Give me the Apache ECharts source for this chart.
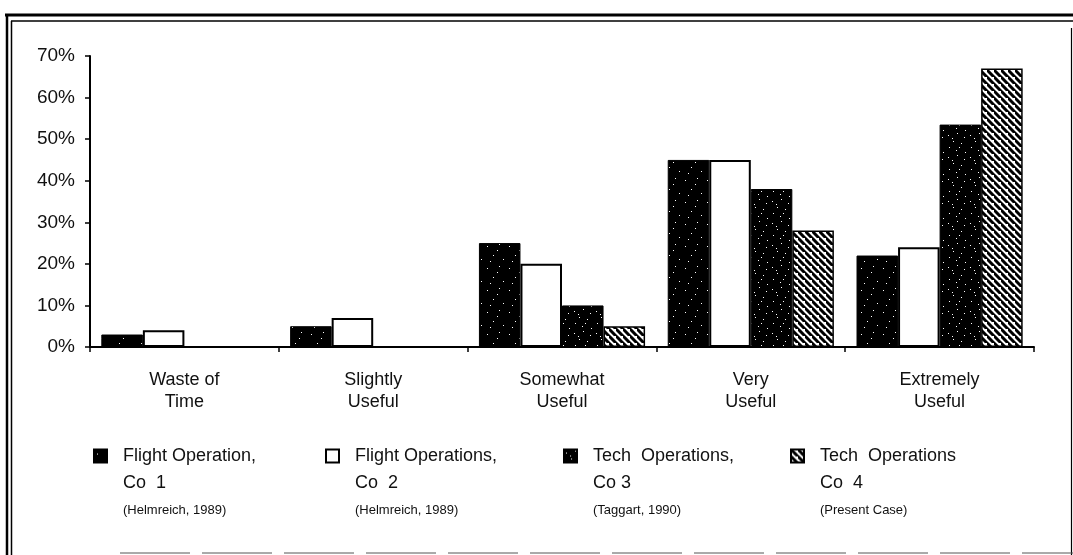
<!DOCTYPE html>
<html>
<head>
<meta charset="utf-8">
<style>
  html, body { margin: 0; padding: 0; background: #fff; }
  #chart { width: 1073px; height: 555px; }
</style>
<script src="https://cdn.jsdelivr.net/npm/echarts@6/dist/echarts.min.js"></script>
</head>
<body>
<div id="chart"></div>
<script>
// Response categories
const categories = ['Waste of\nTime', 'Slightly\nUseful', 'Somewhat\nUseful', 'Very\nUseful', 'Extremely\nUseful'];

// Percentage of respondents per group
const flightCo1 = [3, 5, 25, 45, 22];
const flightCo2 = [4, 7, 20, 45, 24];
const techCo3 = [0, 0, 10, 38, 53.5];
const techCo4 = [0, 0, 5, 28, 67];

const seriesNames = ['Flight Operation, Co 1', 'Flight Operations, Co 2', 'Tech Operations, Co 3', 'Tech Operations Co 4'];
const legendLines = [
  ['Flight Operation,', 'Co  1', '(Helmreich, 1989)'],
  ['Flight Operations,', 'Co  2', '(Helmreich, 1989)'],
  ['Tech  Operations,', 'Co 3', '(Taggart, 1990)'],
  ['Tech  Operations', 'Co  4', '(Present Case)']
];

const yTicks = [0, 10, 20, 30, 40, 50, 60, 70];

// Fill textures for the bars
function speckleTile(dots) {
  const c = document.createElement('canvas');
  c.width = 22; c.height = 22;
  const g = c.getContext('2d');
  g.fillStyle = '#000';
  g.fillRect(0, 0, 22, 22);
  g.fillStyle = '#fff';
  dots.forEach(d => g.fillRect(d[0], d[1], 1, 1));
  return c;
}
function hatchTile() {
  const s = 7;
  const c = document.createElement('canvas');
  c.width = s; c.height = s;
  const g = c.getContext('2d');
  g.fillStyle = '#fff';
  g.fillRect(0, 0, s, s);
  g.strokeStyle = '#000';
  g.lineWidth = 3;
  g.beginPath();
  g.moveTo(-1, -1); g.lineTo(s + 1, s + 1);
  g.moveTo(-s - 1, -1); g.lineTo(1, s + 1);
  g.moveTo(s - 1, -s - 1); g.lineTo(2 * s + 1, s + 1);
  g.stroke();
  return c;
}
const speckleA = speckleTile([[3, 4], [15, 2], [9, 13], [19, 17], [6, 19], [13, 8]]);
const speckleB = speckleTile([[2, 3], [11, 1], [18, 5], [7, 9], [15, 11], [3, 15], [10, 18], [19, 20], [13, 15], [6, 6]]);
const hatch = hatchTile();

const chart = echarts.init(document.getElementById('chart'), null, { renderer: 'canvas' });

const legendLeft = [93, 325, 563, 790];

const legends = seriesNames.map((name, i) => ({
  data: [{ name: name, icon: 'rect' }],
  left: legendLeft[i],
  top: 447,
  orient: 'horizontal',
  padding: 0,
  itemWidth: 13,
  itemHeight: 13,
  selectedMode: false,
  formatter: () => '{a|' + legendLines[i][0] + '}\n{a|' + legendLines[i][1] + '}\n{b|' + legendLines[i][2] + '}',
  textStyle: {
    padding: [55, 0, 0, 11],
    rich: {
      a: { fontFamily: 'Liberation Sans', fontSize: 18, lineHeight: 27, color: '#111' },
      b: { fontFamily: 'Liberation Sans', fontSize: 13, lineHeight: 28, color: '#111' }
    }
  }
}));

const barBase = { type: 'bar', barGap: '0%', barCategoryGap: '12%' };

chart.setOption({
  animation: false,
  backgroundColor: '#fff',
  grid: { left: 90, right: 39, top: 56, bottom: 208 },
  legend: legends,
  xAxis: {
    type: 'category',
    data: categories,
    axisLine: { lineStyle: { color: '#000', width: 2 } },
    axisTick: { show: true, length: 5, lineStyle: { color: '#000', width: 1.5 } },
    axisLabel: {
      margin: 22,
      fontFamily: 'Liberation Sans',
      fontSize: 18,
      lineHeight: 22,
      color: '#111'
    }
  },
  yAxis: {
    type: 'value',
    min: 0,
    max: 70,
    interval: 10,
    axisLine: { show: true, lineStyle: { color: '#000', width: 2 } },
    axisTick: { show: true, length: 5, lineStyle: { color: '#000', width: 1.5 } },
    splitLine: { show: false },
    axisLabel: {
      margin: 15,
      fontFamily: 'Liberation Sans',
      fontSize: 19,
      color: '#111',
      formatter: v => (yTicks.includes(v) ? v + '%' : '')
    }
  },
  series: [
    Object.assign({}, barBase, {
      name: seriesNames[0], data: flightCo1,
      itemStyle: { color: { image: speckleA, repeat: 'repeat' }, borderColor: '#000', borderWidth: 1 }
    }),
    Object.assign({}, barBase, {
      name: seriesNames[1], data: flightCo2,
      itemStyle: { color: '#fff', borderColor: '#000', borderWidth: 2 }
    }),
    Object.assign({}, barBase, {
      name: seriesNames[2], data: techCo3,
      itemStyle: { color: { image: speckleB, repeat: 'repeat' }, borderColor: '#000', borderWidth: 1 }
    }),
    Object.assign({}, barBase, {
      name: seriesNames[3], data: techCo4,
      itemStyle: { color: { image: hatch, repeat: 'repeat' }, borderColor: '#000', borderWidth: 1.5 }
    })
  ],
  graphic: [
    // double frame round the figure
    { type: 'line', shape: { x1: 5, y1: 15, x2: 1073, y2: 15 }, style: { stroke: '#000', lineWidth: 3 } },
    { type: 'line', shape: { x1: 11, y1: 21, x2: 1073, y2: 21 }, style: { stroke: '#000', lineWidth: 1.5 } },
    { type: 'line', shape: { x1: 7, y1: 14, x2: 7, y2: 555 }, style: { stroke: '#000', lineWidth: 2.5 } },
    { type: 'line', shape: { x1: 11.5, y1: 21, x2: 11.5, y2: 555 }, style: { stroke: '#000', lineWidth: 1.5 } },
    { type: 'line', shape: { x1: 1071.5, y1: 28, x2: 1071.5, y2: 555 }, style: { stroke: '#000', lineWidth: 1.2 } },
    { type: 'line', shape: { x1: 120, y1: 553, x2: 1073, y2: 553 }, style: { stroke: '#555', lineWidth: 1, lineDash: [70, 12] } }
  ]
});
</script>
</body>
</html>
